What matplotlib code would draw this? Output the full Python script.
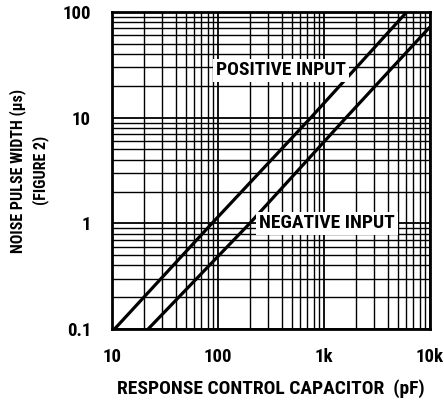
import matplotlib
matplotlib.use('Agg')
from matplotlib import pyplot as plt
from matplotlib import font_manager as fm
from matplotlib.ticker import LogLocator, FixedLocator, NullFormatter

# values
pos_c = [10.6, 88, 754, 6060]
pos_t = [0.1, 1, 10, 100]
neg_c = [22, 200, 1620, 10000]
neg_t = [0.1, 1, 10, 72]

x_ticks = [10, 100, 1000, 10000]
x_labels = ['10', '100', '1k', '10k']
y_ticks = [0.1, 1, 10, 100]
y_labels = ['0.1', '1', '10', '100']

# look for a narrow bold face, otherwise plain DejaVu bold
narrow = None
for f in fm.fontManager.ttflist:
    name = f.fname.lower()
    if ('narrow' in name or 'condensed' in name) and 'bold' in name \
            and 'italic' not in name and 'oblique' not in name and 'extra' not in name \
            and 'semi' not in name:
        narrow = f.fname
        if 'liberation' in name or 'roboto' in name:
            break

if narrow:
    def fp(size):
        return fm.FontProperties(fname=narrow, size=size)
    s_tick, s_lab, s_ann, s_ylab = 13.5, 14, 14, 11.5
else:
    def fp(size):
        return fm.FontProperties(family='DejaVu Sans', weight='bold', size=size)
    s_tick, s_lab, s_ann, s_ylab = 11, 11, 11, 9.5

fig = plt.figure(figsize=(4.44, 4.0), dpi=100)
ax = fig.add_axes([0.252, 0.1775, 0.716, 0.7925])

ax.set_xscale('log')
ax.set_yscale('log')
ax.set_xlim(10, 10000)
ax.set_ylim(0.1, 100)

ax.plot(pos_c, pos_t, color='black', lw=2.3, solid_capstyle='butt', zorder=3)
ax.plot(neg_c, neg_t, color='black', lw=2.3, solid_capstyle='butt', zorder=3)

ax.xaxis.set_major_locator(FixedLocator(x_ticks))
ax.yaxis.set_major_locator(FixedLocator(y_ticks))
ax.set_xticklabels(x_labels, fontproperties=fp(s_tick))
ax.set_yticklabels(y_labels, fontproperties=fp(s_tick))
ax.xaxis.set_minor_locator(LogLocator(base=10, subs=range(2, 10)))
ax.yaxis.set_minor_locator(LogLocator(base=10, subs=range(2, 10)))
ax.xaxis.set_minor_formatter(NullFormatter())
ax.yaxis.set_minor_formatter(NullFormatter())

ax.grid(True, which='major', color='black', lw=1.3)
ax.grid(True, which='minor', color='black', lw=1.0)
ax.set_axisbelow(True)

ax.tick_params(which='both', length=0)
ax.tick_params(axis='x', pad=14)
ax.tick_params(axis='y', pad=15)

for s in ax.spines.values():
    s.set_linewidth(2)

ax.set_xlabel('RESPONSE CONTROL CAPACITOR  (pF)', fontproperties=fp(s_lab),
              labelpad=9)
ax.set_ylabel('NOISE PULSE WIDTH (μs)\n(FIGURE 2)', fontproperties=fp(s_ylab),
              labelpad=10, linespacing=1.4)

box = dict(facecolor='white', edgecolor='none', pad=2)
ax.text(393, 28, 'POSITIVE INPUT', fontproperties=fp(s_ann),
        ha='center', va='center', bbox=box, zorder=4)
ax.text(1070, 1.0, 'NEGATIVE INPUT', fontproperties=fp(s_ann),
        ha='center', va='center', bbox=box, zorder=4)

fig.savefig('out.png', dpi=100)
